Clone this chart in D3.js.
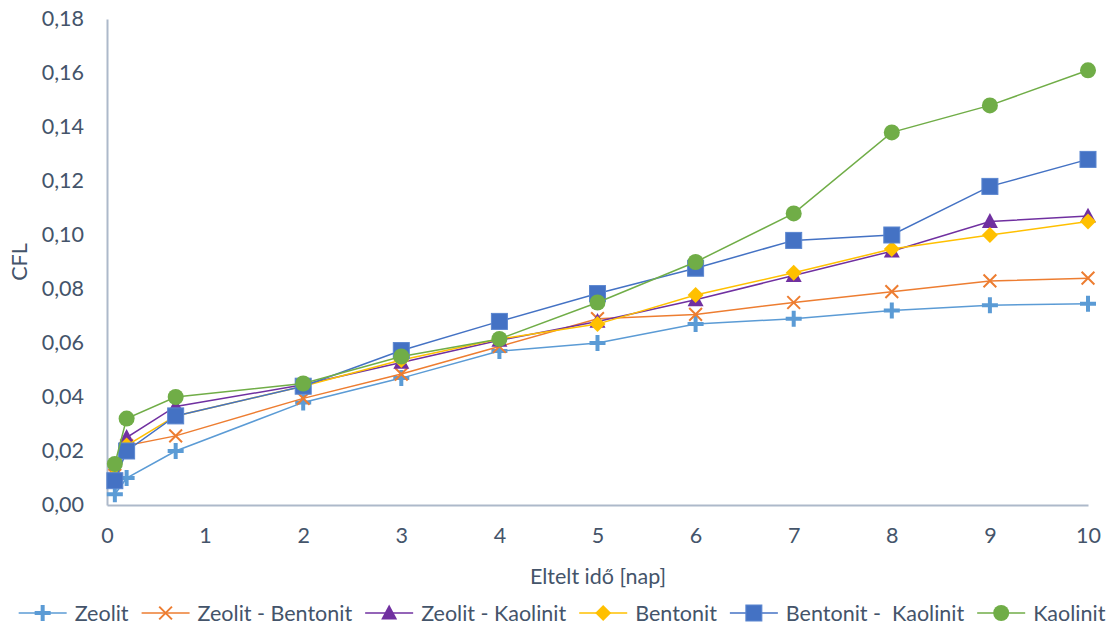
<!DOCTYPE html>
<html>
<head>
<meta charset="utf-8">
<script src="https://cdn.jsdelivr.net/npm/d3@7"></script>
<style>
  html, body { margin: 0; padding: 0; background: #fff; }
  svg { display: block; }
  text { font-family: Lato, "Open Sans", sans-serif; fill: #44546A; }
</style>
</head>
<body>
<svg id="chart" width="1117" height="628"></svg>
<script>
// Elapsed time in days
const days = [0.08, 0.2, 0.7, 2, 3, 4, 5, 6, 7, 8, 9, 10];

// CFL values per sample
const zeolit           = [0.004, 0.010, 0.020, 0.038, 0.047, 0.057, 0.060, 0.067, 0.069, 0.072, 0.074, 0.0745];
const zeolitBentonit   = [0.011, 0.022, 0.0256, 0.0395, 0.0485, 0.0587, 0.069, 0.0706, 0.075, 0.079, 0.083, 0.084];
const zeolitKaolinit   = [0.010, 0.025, 0.0365, 0.0445, 0.0528, 0.061, 0.068, 0.076, 0.085, 0.094, 0.105, 0.107];
const bentonit         = [0.011, 0.022, 0.033, 0.044, 0.0537, 0.0615, 0.067, 0.0778, 0.086, 0.0948, 0.100, 0.105];
const bentonitKaolinit = [0.009, 0.020, 0.033, 0.044, 0.0572, 0.068, 0.0783, 0.0877, 0.098, 0.100, 0.118, 0.128];
const kaolinit         = [0.0152, 0.032, 0.040, 0.045, 0.055, 0.0615, 0.075, 0.090, 0.108, 0.138, 0.148, 0.161];

const seriesNames = ["Zeolit", "Zeolit - Bentonit", "Zeolit - Kaolinit", "Bentonit", "Bentonit -  Kaolinit", "Kaolinit"];
const xTicks = [0, 1, 2, 3, 4, 5, 6, 7, 8, 9, 10];
const yTicks = [0, 0.02, 0.04, 0.06, 0.08, 0.10, 0.12, 0.14, 0.16, 0.18];

const seriesValues = [zeolit, zeolitBentonit, zeolitKaolinit, bentonit, bentonitKaolinit, kaolinit];
const colors  = ["#5B9BD5", "#ED7D31", "#7030A0", "#FFC000", "#4472C4", "#70AD47"];
const markers = ["plus", "cross", "triangle", "diamond", "square", "circle"];

const series = seriesNames.map((name, i) => ({
  name, color: colors[i], marker: markers[i],
  points: days.map((d, j) => ({ x: d, y: seriesValues[i][j] }))
}));

const svg = d3.select("#chart");
const x = d3.scaleLinear().domain([0, 10]).range([107, 1088]);
const y = d3.scaleLinear().domain([0, 0.18]).range([505, 19]);
const fmt = v => d3.format(".2f")(v).replace(".", ",");
const fontSize = "21.5px";

// Axes
const axisColor = "#ADB9CA";
const xAxis = svg.append("g").attr("transform", `translate(0,${y(0)})`)
  .call(d3.axisBottom(x).tickValues(xTicks).tickSize(0).tickPadding(23).tickFormat(d3.format("d")));
const yAxis = svg.append("g").attr("transform", `translate(${x(0)},0)`)
  .call(d3.axisLeft(y).tickValues(yTicks).tickSize(0).tickPadding(23).tickFormat(fmt));
[xAxis, yAxis].forEach(g => {
  g.select(".domain").attr("stroke", axisColor).attr("stroke-width", 2);
  g.selectAll("text").style("font-size", fontSize).attr("fill", "#44546A")
    .style("font-family", "Lato, sans-serif");
});
xAxis.selectAll("text").attr("dy", "0.71em");

// Axis titles
svg.append("text").attr("x", 598).attr("y", 584).attr("text-anchor", "middle")
  .style("font-size", fontSize).text("Eltelt idő [nap]");
svg.append("text").attr("transform", `translate(27,262) rotate(-90)`).attr("text-anchor", "middle")
  .style("font-size", fontSize).text("CFL");

// Marker drawing
function drawMarker(g, type, color, size) {
  const s = size / 2;
  if (type === "plus") {
    g.append("path").attr("d", `M${-s},0H${s}M0,${-s}V${s}`)
      .attr("stroke", color).attr("stroke-width", 4).attr("fill", "none");
  } else if (type === "cross") {
    const c = s * 0.85;
    g.append("path").attr("d", `M${-c},${-c}L${c},${c}M${-c},${c}L${c},${-c}`)
      .attr("stroke", color).attr("stroke-width", 2).attr("fill", "none");
  } else if (type === "triangle") {
    g.append("path").attr("d", `M0,${-s * 1.05}L${s},${s * 0.8}L${-s},${s * 0.8}Z`).attr("fill", color);
  } else if (type === "diamond") {
    g.append("path").attr("d", `M0,${-s}L${s},0L0,${s}L${-s},0Z`).attr("fill", color);
  } else if (type === "square") {
    g.append("rect").attr("x", -s).attr("y", -s).attr("width", size).attr("height", size)
      .attr("fill", color).attr("stroke", "#5A86D0").attr("stroke-width", 1);
  } else if (type === "circle") {
    g.append("circle").attr("r", s).attr("fill", color);
  }
}

const line = d3.line().x(d => x(d.x)).y(d => y(d.y));
const markerSize = { plus: 16, cross: 15, triangle: 16, diamond: 16, square: 16, circle: 16 };

series.forEach(s => {
  const g = svg.append("g");
  g.append("path").datum(s.points).attr("d", line)
    .attr("fill", "none").attr("stroke", s.color).attr("stroke-width", 1.5);
  s.points.forEach(p => {
    const m = g.append("g").attr("transform", `translate(${x(p.x)},${y(p.y)})`);
    drawMarker(m, s.marker, s.color, markerSize[s.marker]);
  });
});

// Legend, laid out left to right and centred
const legend = svg.append("g");
const lineLen = 48, gapText = 8, gapItem = 13, legendY = 613;
let cursor = 0;
series.forEach(s => {
  const item = legend.append("g").attr("transform", `translate(${cursor},0)`);
  item.append("line").attr("x1", 0).attr("x2", lineLen).attr("y1", legendY).attr("y2", legendY)
    .attr("stroke", s.color).attr("stroke-width", 1.5);
  const m = item.append("g").attr("transform", `translate(${lineLen / 2},${legendY})`);
  drawMarker(m, s.marker, s.color, markerSize[s.marker]);
  const t = item.append("text").attr("x", lineLen + gapText).attr("y", legendY).attr("dy", "0.35em")
    .style("font-size", fontSize).style("white-space", "pre").attr("xml:space", "preserve").text(s.name);
  cursor += lineLen + gapText + t.node().getComputedTextLength() + gapItem;
});
const totalW = cursor - gapItem;
legend.attr("transform", `translate(${562 - totalW / 2},0)`);
</script>
</body>
</html>
